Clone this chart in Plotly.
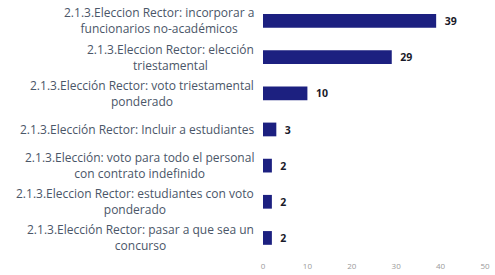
import plotly.graph_objects as go

categories = [
    "2.1.3.Eleccion Rector: incorporar a<br>funcionarios no-académicos",
    "2.1.3.Eleccion Rector: elección<br>triestamental",
    "2.1.3.Elección Rector: voto triestamental<br>ponderado",
    "2.1.3.Elección Rector: Incluir a estudiantes",
    "2.1.3.Elección: voto para todo el personal<br>con contrato indefinido",
    "2.1.3.Eleccion Rector: estudiantes con voto<br>ponderado",
    "2.1.3.Elección Rector: pasar a que sea un<br>concurso",
]
values = [39, 29, 10, 3, 2, 2, 2]
x_ticks = [0, 10, 20, 30, 40, 50]

bar_color = "#1c2080"

fig = go.Figure(go.Bar(
    x=values, y=categories, orientation="h",
    marker=dict(color=bar_color, line=dict(width=0)),
    text=[f"  <b>{v}</b>" for v in values], textposition="outside",
    textfont=dict(family="Open Sans", size=11.5, color="#1a1a2a"),
    cliponaxis=False, width=0.38,
))

annotations = [
    dict(x=0, y=c, xref="paper", yref="y", text=c, showarrow=False,
         xanchor="right", yanchor="middle", align="center", xshift=-7,
         font=dict(family="Open Sans", size=12, color="#4a5668"))
    for c in categories
]

fig.update_layout(
    width=495, height=275,
    margin=dict(l=263, r=10, t=0, b=15, autoexpand=False),
    paper_bgcolor="white", plot_bgcolor="white",
    showlegend=False,
    hovermode=False,
    annotations=annotations,
    xaxis=dict(range=[0, 50], tickvals=x_ticks, showgrid=False, zeroline=False,
               showline=False, ticks="", automargin=False,
               tickfont=dict(family="Open Sans", size=8, color="#9a9a9a")),
    yaxis=dict(categoryorder="array", categoryarray=categories,
               range=[6.61, -0.58], showticklabels=False, showgrid=False,
               zeroline=False, showline=False, ticks="", automargin=False),
)

fig.write_html("out.html", config={"displayModeBar": False},
               post_script="document.body.style.margin='0';document.body.style.overflow='hidden';")
